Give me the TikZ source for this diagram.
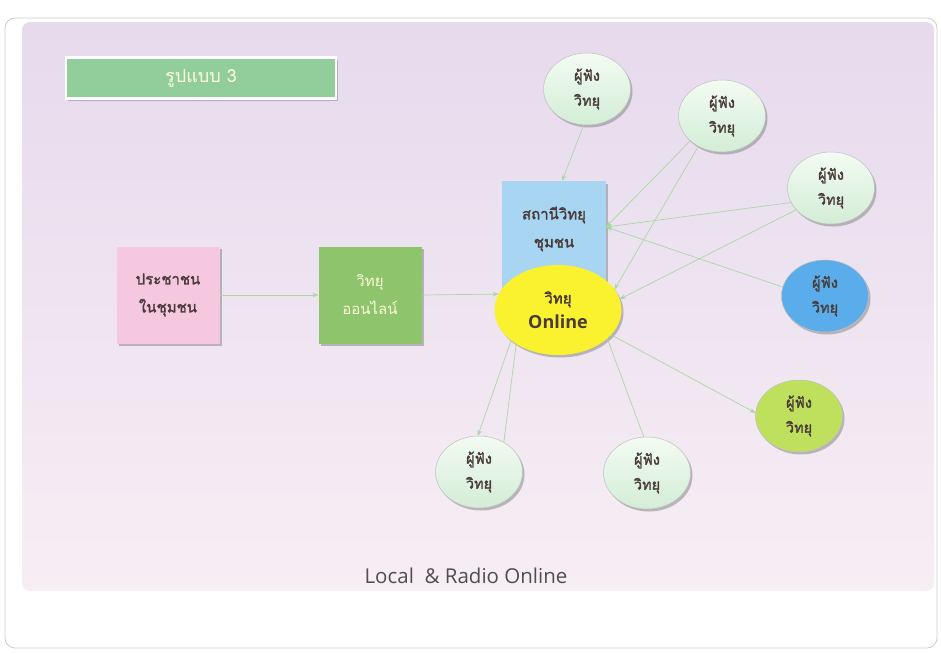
\documentclass[tikz,border=0pt]{standalone}
\usepackage{fontspec}
\setmainfont{Open Sans}
\newfontfamily\thaifont[Script=Thai,AutoFakeBold=2]{Loma}
\usetikzlibrary{shapes.geometric,shadows,arrows.meta}
\definecolor{panelTop}{HTML}{E6DAED}
\definecolor{panelMid}{HTML}{F8E2EF}
\definecolor{panelBot}{HTML}{F7EEF4}
\definecolor{titleGreen}{HTML}{92CE9B}
\definecolor{pinkBox}{HTML}{F6C8E0}
\definecolor{greenBox}{HTML}{8DC46C}
\definecolor{blueBox}{HTML}{A8D6F2}
\definecolor{yellowEll}{HTML}{FAF22E}
\definecolor{lisTop}{HTML}{F3FBF2}
\definecolor{lisBot}{HTML}{D3EDD6}
\definecolor{lisBlue}{HTML}{5AADEA}
\definecolor{lisLime}{HTML}{BFE05C}
\definecolor{txtDark}{HTML}{4A3B3B}
\definecolor{lineGreen}{HTML}{A9D8A2}
\definecolor{capGray}{HTML}{4F4F4F}
\tikzset{
  shadowed/.style={drop shadow={shadow xshift=2pt,shadow yshift=-2.5pt,opacity=0.45,fill=black!55}},
  thaitext/.style={font=\thaifont\bfseries\fontsize{15}{28}\selectfont, text=txtDark, align=center},
  titlebox/.style={shadowed, rectangle, fill=titleGreen, draw=white, line width=2.5pt,
    minimum width=270pt, minimum height=41pt, text=white!88!yellow,
    font=\thaifont\fontsize{18}{20}\selectfont},
  rectbox/.style={shadowed, rectangle, thaitext, minimum width=103pt, minimum height=97pt, inner sep=0pt, outer sep=0pt},
  listener/.style={shadowed, ellipse, thaitext, minimum width=87pt, minimum height=72pt,
    inner sep=0pt, outer sep=0pt, draw=black!25, line width=0.5pt,
    font=\thaifont\bfseries\fontsize{14.5}{25}\selectfont},
  mint/.style={top color=lisTop, bottom color=lisBot},
  conn/.style={draw=lineGreen, line width=0.7pt},
  arr/.style={conn, -{Stealth[length=6pt,width=4.5pt]}}
}
\begin{document}
\begin{tikzpicture}[x=1pt,y=-1pt]
\useasboundingbox (0,0) rectangle (941,653);
\fill[white] (0,0) rectangle (941,653);
\draw[rounded corners=10pt, draw=black!20, fill=white, line width=0.8pt] (5,18) rectangle (937,648);
\shade[rounded corners=8pt, top color=panelTop, middle color=panelMid, bottom color=panelBot] (22,22) rectangle (934,591);

% title
\node[titlebox] (title) at (201,78) {รูปแบบ 3};

% boxes
\node[rectbox, fill=pinkBox] (people) at (168,295) {ประชาชน\\ในชุมชน};
\node[rectbox, fill=greenBox, text=white!85!yellow, font=\thaifont\fontsize{15}{28}\selectfont] (online) at (370,295) {วิทยุ\\ออนไลน์};
\node[rectbox, fill=blueBox, minimum width=104pt, minimum height=108pt, text depth=16pt] (station) at (554,235) {สถานีวิทยุ\\ชุมชน};
\node[shadowed, ellipse, fill=yellowEll, minimum width=127pt, minimum height=90pt, inner sep=0pt, outer sep=0pt,
  align=center, text=txtDark, font=\bfseries\fontsize{18}{25}\selectfont] (radio) at (558,310)
  {{\thaifont\bfseries\fontsize{15}{16}\selectfont วิทยุ}\\Online};

% listeners
\node[listener, mint] (L1) at (587,89) {ผู้ฟัง\\วิทยุ};
\node[listener, mint] (L2) at (722,116) {ผู้ฟัง\\วิทยุ};
\node[listener, mint] (L3) at (831,188) {ผู้ฟัง\\วิทยุ};
\node[listener, fill=lisBlue] (L4) at (825,296) {ผู้ฟัง\\วิทยุ};
\node[listener, fill=lisLime] (L5) at (799,416) {ผู้ฟัง\\วิทยุ};
\node[listener, mint] (L6) at (647,473) {ผู้ฟัง\\วิทยุ};
\node[listener, mint] (L7) at (479,472) {ผู้ฟัง\\วิทยุ};

% caption
\node[text=capGray, font=\fontsize{20.5}{24}\selectfont] (cap) at (466,576) {Local\ \ \& Radio Online};

% connectors
\draw[arr] (people.east) -- (online.west);
\draw[arr] (online.east) -- (radio.165);
\draw[arr] (L1.265) -- ([xshift=8pt]station.north);
\draw[arr] (L2.218) -- ([yshift=8pt]station.east);
\draw[arr] (L2.232) -- (radio.20);
\draw[arr] (L3.200) -- ([yshift=8pt]station.east);
\draw[arr] (L3.212) -- (radio.10);
\draw[arr] (L4.168) -- ([yshift=8pt]station.east);
\draw[arr] (radio.335) -- (L5.176);
\draw[conn] (radio.330) -- (L6.95);
\draw[arr] (radio.213) -- (L7.92);
\draw[conn] (L7.50) -- (radio.219);
\end{tikzpicture}
\end{document}
